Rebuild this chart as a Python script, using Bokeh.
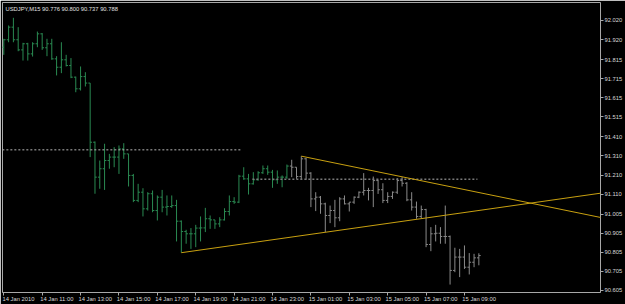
from bokeh.plotting import figure
from bokeh.models import (ColumnDataSource, FixedTicker, NumeralTickFormatter, Label, Range1d,
                          LinearAxis)
from bokeh.embed import file_html
from bokeh.resources import INLINE

# ---- data (USDJPY M15, 14 Jan 2010 09:00 onwards) ----
opens = [91.880, 91.919, 91.985, 91.919, 91.866, 91.898, 91.845, 91.898, 91.950, 91.877,
         91.898, 91.819, 91.775, 91.814, 91.784, 91.723, 91.662, 91.726, 91.692, 91.382,
         91.199, 91.243, 91.286, 91.304, 91.304, 91.347, 91.321, 91.208, 91.077, 91.120,
         91.033, 91.112, 91.024, 91.094, 91.042, 91.045, 91.050, 90.968, 90.914, 90.902,
         90.902, 90.932, 90.933, 90.981, 90.975, 90.954, 90.975, 91.019, 91.071, 91.068,
         91.204, 91.190, 91.164, 91.185, 91.222, 91.243, 91.225, 91.185, 91.199, 91.199,
         91.257, 91.251, 91.202, 91.295, 91.220, 91.085, 91.094, 91.059, 90.998, 91.024,
         90.986, 91.085, 91.059, 91.068, 91.094, 91.120, 91.129, 91.129, 91.181, 91.133,
         91.077, 91.098, 91.120, 91.181, 91.167, 91.080, 91.042, 90.993, 91.029, 90.846,
         90.902, 90.905, 90.888, 90.888, 90.710, 90.780, 90.780, 90.727, 90.753, 90.776]
highs = [91.924, 91.994, 92.034, 91.985, 91.903, 91.903, 91.906, 91.962, 91.954, 91.924,
         91.924, 91.833, 91.906, 91.840, 91.823, 91.726, 91.779, 91.749, 91.692, 91.386,
         91.286, 91.374, 91.321, 91.356, 91.365, 91.377, 91.321, 91.216, 91.164, 91.141,
         91.120, 91.129, 91.103, 91.132, 91.103, 91.103, 91.080, 90.972, 90.923, 90.932,
         90.949, 90.993, 91.038, 90.998, 90.975, 90.989, 91.036, 91.103, 91.094, 91.211,
         91.251, 91.216, 91.225, 91.230, 91.260, 91.260, 91.237, 91.234, 91.208, 91.265,
         91.290, 91.251, 91.309, 91.300, 91.225, 91.120, 91.100, 91.065, 91.050, 91.080,
         91.094, 91.103, 91.068, 91.098, 91.124, 91.220, 91.143, 91.202, 91.185, 91.167,
         91.120, 91.124, 91.194, 91.199, 91.173, 91.120, 91.071, 91.050, 91.033, 90.937,
         90.949, 90.937, 91.050, 90.893, 90.829, 90.823, 90.841, 90.801, 90.797, 90.800]
lows = [91.840, 91.906, 91.906, 91.859, 91.810, 91.810, 91.831, 91.880, 91.866, 91.833,
        91.814, 91.732, 91.744, 91.779, 91.718, 91.644, 91.653, 91.674, 91.304, 91.112,
        91.138, 91.132, 91.243, 91.251, 91.216, 91.295, 91.150, 91.068, 91.068, 90.993,
        91.024, 91.015, 90.972, 91.015, 90.998, 91.038, 90.862, 90.803, 90.850, 90.823,
        90.832, 90.862, 90.911, 90.928, 90.928, 90.937, 90.972, 90.998, 91.059, 91.063,
        91.185, 91.108, 91.160, 91.180, 91.216, 91.211, 91.143, 91.164, 91.146, 91.190,
        91.199, 91.190, 91.185, 91.185, 91.042, 91.021, 91.007, 90.911, 90.958, 90.937,
        90.968, 91.056, 91.019, 91.059, 91.089, 91.103, 91.077, 91.042, 91.111, 91.063,
        91.063, 91.085, 91.111, 91.150, 91.073, 91.024, 90.981, 90.981, 90.832, 90.811,
        90.862, 90.850, 90.850, 90.636, 90.701, 90.675, 90.718, 90.689, 90.727, 90.737]
closes = [91.919, 91.985, 91.919, 91.866, 91.898, 91.845, 91.898, 91.950, 91.877, 91.898,
          91.819, 91.775, 91.814, 91.784, 91.723, 91.662, 91.726, 91.692, 91.382, 91.199,
          91.243, 91.286, 91.304, 91.304, 91.347, 91.321, 91.208, 91.077, 91.120, 91.033,
          91.112, 91.024, 91.094, 91.042, 91.045, 91.050, 90.968, 90.914, 90.902, 90.902,
          90.932, 90.933, 90.981, 90.975, 90.954, 90.975, 91.019, 91.071, 91.068, 91.204,
          91.190, 91.164, 91.185, 91.222, 91.243, 91.225, 91.185, 91.199, 91.199, 91.257,
          91.251, 91.202, 91.295, 91.220, 91.085, 91.094, 91.059, 90.998, 91.024, 90.986,
          91.085, 91.059, 91.068, 91.094, 91.120, 91.129, 91.129, 91.181, 91.133, 91.077,
          91.098, 91.120, 91.181, 91.167, 91.080, 91.042, 90.993, 91.029, 90.846, 90.902,
          90.905, 90.888, 90.888, 90.710, 90.780, 90.780, 90.727, 90.753, 90.776, 90.788]
gray_from = 60  # bars from this index are drawn gray

time_ticks = [0, 8, 16, 24, 32, 40, 48, 56, 64, 72, 80, 88, 96]
time_labels = ["14 Jan 2010", "14 Jan 11:00", "14 Jan 13:00", "14 Jan 15:00", "14 Jan 17:00",
               "14 Jan 19:00", "14 Jan 21:00", "14 Jan 23:00", "15 Jan 01:00", "15 Jan 03:00",
               "15 Jan 05:00", "15 Jan 07:00", "15 Jan 09:00"]
price_ticks = [92.020, 91.920, 91.815, 91.715, 91.615, 91.515, 91.410, 91.310, 91.210,
               91.110, 91.005, 90.905, 90.805, 90.705, 90.605]

# objects drawn on the chart (bar index, price)
hline_dash = dict(x0=-0.3, x1=49.7, y=91.342)
hline_dot = dict(x0=51.8, x1=98.7, y=91.188)
trend_up = dict(x0=37, y0=90.803, x1=124.4, y1=91.115)
trend_dn = dict(x0=62, y0=91.309, x1=124.4, y1=90.9875)
last_price = 90.788
header = "USDJPY,M15  90.776 90.800 90.737 90.788"

# ---- figure ----
n = len(opens)
idx = list(range(n))
colors = ["#2a8a52" if i < gray_from else "#8a8a8a" for i in idx]
src = ColumnDataSource(dict(x=idx, xl=[i - 0.38 for i in idx], xr=[i + 0.38 for i in idx],
                            o=opens, h=highs, l=lows, c=closes, col=colors))

p = figure(frame_width=598, frame_height=290, output_backend="svg", toolbar_location=None,
           x_range=Range1d(-0.27, 124.35), y_range=Range1d(90.5944, 92.1143),
           y_axis_location="right", min_border_left=2, min_border_top=2,
           min_border_right=0, min_border_bottom=0)
p.background_fill_color = "#000000"
p.border_fill_color = "#000000"
p.outline_line_color = "#a8a8a8"
p.outline_line_width = 1
p.xgrid.visible = False
p.ygrid.visible = False

FONT = "Liberation Sans"
FS = "5.8px"


def style(ax):
    ax.axis_line_color = None
    ax.major_tick_line_color = "#a8a8a8"
    ax.major_tick_in = 0
    ax.major_tick_out = 3
    ax.minor_tick_line_color = None
    ax.major_label_text_color = "#d8d8d8"
    ax.major_label_text_font = FONT
    ax.major_label_text_font_size = FS
    ax.major_label_standoff = 1


style(p.xaxis[0])
style(p.yaxis[0])

# bottom axis 1: tick marks at the time positions (labels suppressed)
p.xaxis[0].ticker = FixedTicker(ticks=time_ticks)
p.xaxis[0].major_label_text_font_size = "1px"
p.xaxis[0].major_label_text_alpha = 0
p.xaxis[0].major_label_standoff = 0

# bottom axis 2: time labels, left-aligned to the tick marks (shifted by half a label width)
half_label = 3.05
lab_ticks = [t + half_label for t in time_ticks]
xlab = LinearAxis(ticker=FixedTicker(ticks=lab_ticks),
                  major_label_overrides={t: s for t, s in zip(lab_ticks, time_labels)})
style(xlab)
xlab.major_tick_out = 0
xlab.major_label_standoff = 0
p.add_layout(xlab, "below")

p.yaxis.ticker = FixedTicker(ticks=price_ticks)
p.yaxis.formatter = NumeralTickFormatter(format="0.000")

# OHLC bars
p.segment(x0="x", y0="l", x1="x", y1="h", color="col", line_width=1, source=src)
p.segment(x0="xl", y0="o", x1="x", y1="o", color="col", line_width=1, source=src)
p.segment(x0="x", y0="c", x1="xr", y1="c", color="col", line_width=1, source=src)

# horizontal lines
p.segment(x0=[hline_dash["x0"]], y0=[hline_dash["y"]], x1=[hline_dash["x1"]], y1=[hline_dash["y"]],
          line_color="#b8b8b8", line_width=1, line_dash="2 2")
p.segment(x0=[hline_dot["x0"]], y0=[hline_dot["y"]], x1=[hline_dot["x1"]], y1=[hline_dot["y"]],
          line_color="#7a7a7a", line_width=1.5, line_dash="2 2")

# trend lines
for t in (trend_up, trend_dn):
    p.segment(x0=[t["x0"]], y0=[t["y0"]], x1=[t["x1"]], y1=[t["y1"]],
              line_color="#c8a010", line_width=1)

p.add_layout(Label(x=3, y=284, x_units="screen", y_units="screen", text=header,
                   text_color="#e0e0e0", text_font=FONT, text_font_size=FS,
                   text_baseline="middle"))
p.add_layout(Label(x=599, y=last_price, x_units="screen", y_units="data", text="90.788",
                   text_color="#000000", text_font=FONT, text_font_size=FS,
                   text_baseline="middle", background_fill_color="#ffffff",
                   padding=2))

open("out.html", "w").write(file_html(p, INLINE))
